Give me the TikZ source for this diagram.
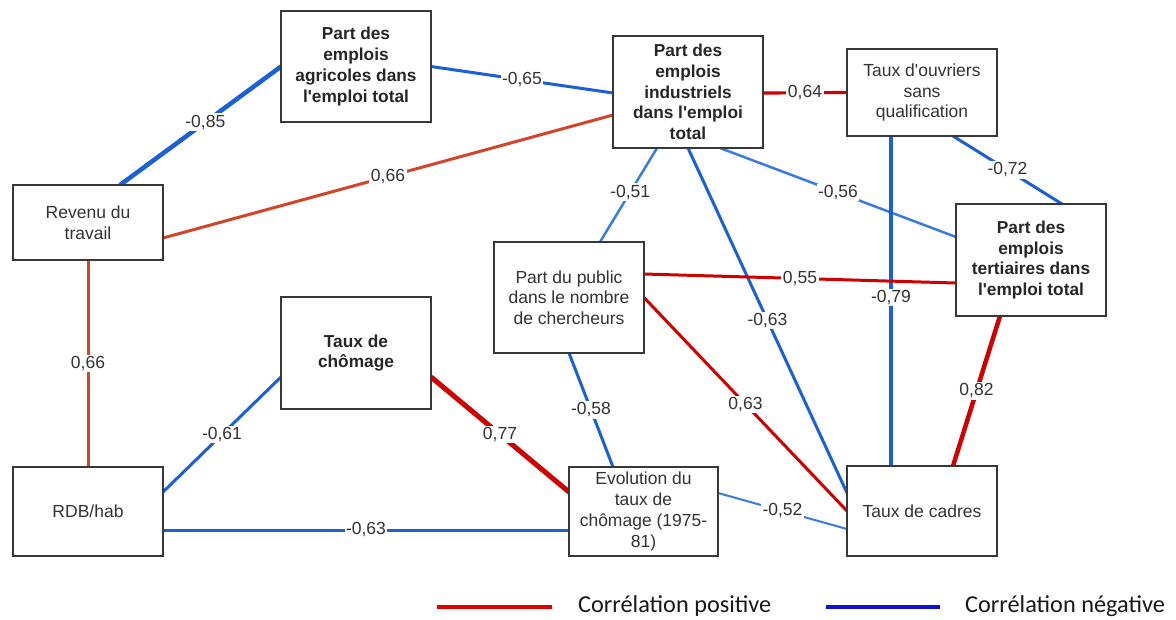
\documentclass[tikz,border=0pt]{standalone}
\usepackage{fontspec}
\setmainfont{Liberation Sans}[Ligatures=TeXOff]
\newfontfamily\legfont{Carlito}
\definecolor{boxgray}{HTML}{383838}
\definecolor{txtgray}{HTML}{333333}
\definecolor{negA}{HTML}{1B5FD9}
\definecolor{negL}{HTML}{3A7BE0}
\definecolor{posR}{HTML}{D00000}
\definecolor{posO}{HTML}{D2452B}
\definecolor{legR}{HTML}{E00000}
\definecolor{legB}{HTML}{1010D0}
\pgfdeclarelayer{bg}
\pgfsetlayers{bg,main}
\begin{document}
\begin{tikzpicture}[x=1pt,y=-1pt,
  box/.style={draw=boxgray, line width=2.5pt, fill=white, align=center, text=txtgray,
    font=\fontsize{17.5}{20.7}\selectfont, inner sep=0pt, outer sep=0pt},
  bbox/.style={box, font=\fontsize{17.3}{20.7}\selectfont\bfseries, text=black!85},
  lbl/.style={fill=white, inner sep=1.5pt, text=txtgray, font=\fontsize{17.5}{20}\selectfont},
  negline/.style={draw=negA},
  neglight/.style={draw=negL},
  posline/.style={draw=posR},
  posorange/.style={draw=posO},
  legtxt/.style={anchor=west, inner sep=0pt, text=black!90, font=\legfont\fontsize{24.3}{27}\selectfont}
]
\useasboundingbox (0,0) rectangle (1176,619);

% boxes
\node[bbox, minimum width=150pt, minimum height=111pt] (agr) at (356,66.5) {Part des\\emplois\\agricoles dans\\l'emploi total};
\node[bbox, minimum width=150pt, minimum height=112pt] (ind) at (688,92) {Part des\\emplois\\industriels\\dans l'emploi\\total};
\node[box, minimum width=150pt, minimum height=87pt] (ouv) at (922,92.5) {Taux d'ouvriers\\sans\\qualification};
\node[bbox, minimum width=150pt, minimum height=112pt] (ter) at (1031,260) {Part des\\emplois\\tertiaires dans\\l'emploi total};
\node[box, minimum width=150pt, minimum height=75pt] (rev) at (88,222.5) {Revenu du\\travail};
\node[box, minimum width=150pt, minimum height=89pt] (rdb) at (88,511.5) {RDB/hab};
\node[bbox, minimum width=150pt, minimum height=112pt] (cho) at (356,353) {Taux de\\chômage};
\node[box, minimum width=150pt, minimum height=111pt] (pub) at (569,297.5) {Part du public\\dans le nombre\\de chercheurs};
\node[box, minimum width=149pt, minimum height=89pt] (evo) at (643.5,511.5) {Evolution du\\taux de\\chômage (1975-\\81)};
\node[box, minimum width=150pt, minimum height=90pt] (cad) at (922,511) {Taux de cadres};

\begin{pgfonlayer}{bg}
\fill[white] (0,0) rectangle (1176,619);
\draw[negline, line width=4.5pt] ([xshift=32pt]rev.north) -- (agr.west) node[lbl, pos=0.53] {-0,85};
\draw[negline, line width=3pt] (agr.east) -- ([yshift=-1pt]ind.west) node[lbl, pos=0.5] {-0,65};
\draw[posorange, line width=3pt] ([yshift=-15.5pt]rev.east) -- ([yshift=-23pt]ind.west) node[lbl, pos=0.5] {0,66};
\draw[posorange, line width=3pt] (rev.south) -- (rdb.north) node[lbl, pos=0.5] {0,66};
\draw[posline, line width=3.2pt] ([yshift=-1pt]ind.east) -- (ouv.west) node[lbl, pos=0.5] {0,64};
\draw[neglight, line width=2.5pt] ([xshift=-31pt]ind.south) -- ([xshift=31pt]pub.north) node[lbl, pos=0.47] {-0,51};
\draw[negline, line width=3pt] (ind.south) -- ([yshift=18pt]cad.west) node[lbl, pos=0.5] {-0,63};
\draw[neglight, line width=2.5pt] ([xshift=32pt]ind.south) -- ([yshift=23pt]ter.west) node[lbl, pos=0.5] {-0,56};
\draw[negline, line width=4pt] ([xshift=-31pt]ouv.south) -- ([xshift=-31pt]cad.north) node[lbl, pos=0.49] {-0,79};
\draw[negline, line width=3pt] ([xshift=31pt]ouv.south) -- ([xshift=31pt]ter.north) node[lbl, pos=0.5] {-0,72};
\draw[posline, line width=3pt] ([yshift=23.5pt]pub.east) -- ([yshift=-23pt]ter.west) node[lbl, pos=0.5] {0,55};
\draw[posline, line width=3pt] (pub.east) -- (cad.west) node[lbl, pos=0.5] {0,63};
\draw[negline, line width=3pt] (pub.south) -- ([xshift=-30.5pt]evo.north) node[lbl, pos=0.5] {-0,58};
\draw[posline, line width=5pt] ([yshift=-24pt]cho.east) -- ([yshift=19.5pt]evo.west) node[lbl, pos=0.5] {0,77};
\draw[negline, line width=3pt] ([yshift=19.5pt]rdb.east) -- ([yshift=-24pt]cho.west) node[lbl, pos=0.5] {-0,61};
\draw[negline, line width=3pt] ([yshift=-18.5pt]rdb.east) -- ([yshift=-18.5pt]evo.west) node[lbl, pos=0.5] {-0,63};
\draw[neglight, line width=2pt] ([yshift=18.5pt]evo.east) -- ([yshift=-18pt]cad.west) node[lbl, pos=0.5] {-0,52};
\draw[posline, line width=4.5pt] ([xshift=-31pt]ter.south) -- ([xshift=31pt]cad.north) node[lbl, pos=0.5] {0,82};
\end{pgfonlayer}

% legend
\coordinate (lr1) at (437,607);
\coordinate (lr2) at (552,607);
\coordinate (lb1) at (826,607);
\coordinate (lb2) at (940,607);
\draw[legR, line width=4pt] (lr1) -- (lr2);
\draw[legB, line width=4pt] (lb1) -- (lb2);
\node[legtxt] (lpos) at (578,606) {Corrélation positive};
\node[legtxt] (lneg) at (965,606) {Corrélation négative};
\end{tikzpicture}
\end{document}
